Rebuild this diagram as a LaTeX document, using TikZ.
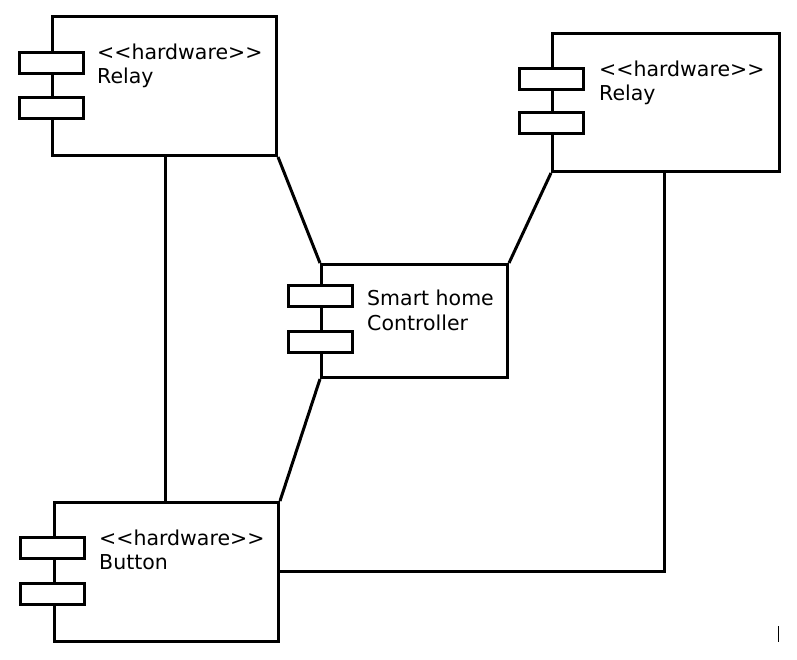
\documentclass[tikz,border=0pt]{standalone}
\usepackage{fontspec}
\setmainfont{DejaVu Sans}
\begin{document}
\begin{tikzpicture}[x=1pt,y=-1pt,
  comp/.style={draw,line width=3pt,rectangle,anchor=north west,inner sep=0pt},
  port/.style={draw,line width=3pt,fill=white,rectangle,inner sep=0pt,minimum width=64pt,minimum height=21pt},
  lbl/.style={anchor=base west,inner sep=0pt,font=\fontsize{20.5}{25}\selectfont},
  conn/.style={line width=3pt}]
\useasboundingbox (0,0) rectangle (797,659);
% components
\node[comp,minimum width=224pt,minimum height=139pt] (r1) at (51,15) {};
\node[comp,minimum width=227pt,minimum height=138pt] (r2) at (551,32) {};
\node[comp,minimum width=186pt,minimum height=113pt] (ctl) at (320,263) {};
\node[comp,minimum width=224pt,minimum height=139pt] (btn) at (53,501) {};
% ports
\node[port] (r1p1) at (51,63) {};
\node[port] (r1p2) at (51,107.5) {};
\node[port] (r2p1) at (551,79) {};
\node[port] (r2p2) at (551,123) {};
\node[port] (cp1) at (320.5,296) {};
\node[port] (cp2) at (320.5,342) {};
\node[port] (bp1) at (52,547.5) {};
\node[port] (bp2) at (52,594) {};
% labels
\node[lbl] (t1a) at (97,59) {<{}<hardware>{}>};
\node[lbl] (t1b) at (97,83) {Relay};
\node[lbl] (t2a) at (599,76) {<{}<hardware>{}>};
\node[lbl] (t2b) at (599,100) {Relay};
\node[lbl] (t3a) at (367,305) {Smart home};
\node[lbl] (t3b) at (367,330) {Controller};
\node[lbl] (t4a) at (99,545) {<{}<hardware>{}>};
\node[lbl] (t4b) at (99,569) {Button};
% connectors
\coordinate (v1) at (165,0);
\coordinate (v2) at (664,571);
\draw[conn] (r1.south west -| v1) -- (btn.north west -| v1);
\draw[conn] (r1.south east) -- (ctl.north west);
\draw[conn] (r2.south west) -- (ctl.north east);
\draw[conn] (ctl.south west) -- (btn.north east);
\draw[conn] (r2.south west -| v2) |- (btn.east |- v2);
% stray mark
\coordinate (m1) at (778,626);
\coordinate (m2) at (778,642);
\draw[line width=1pt] (m1) -- (m2);
\end{tikzpicture}
\end{document}
